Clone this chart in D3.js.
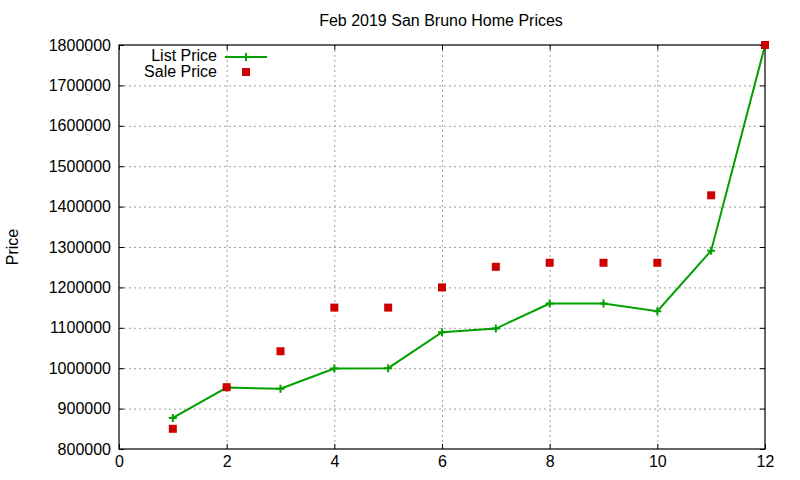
<!DOCTYPE html>
<html>
<head>
<meta charset="utf-8">
<script src="https://cdn.jsdelivr.net/npm/d3@7"></script>
<style>
  body { margin: 0; background: #fff; }
  text { font-family: "Liberation Sans", Arial, sans-serif; fill: #000; }
</style>
</head>
<body>
<svg id="chart" width="800" height="480"></svg>
<script>
// month index for each listing
var months = [1, 2, 3, 4, 5, 6, 7, 8, 9, 10, 11, 12];
var listPrice = [877000, 952000, 949000, 999000, 1000000, 1089000, 1098000, 1160000, 1160000, 1141000, 1291000, 1799000];
var salePrice = [850000, 953000, 1042000, 1150000, 1150000, 1200000, 1251000, 1261000, 1261000, 1261000, 1428000, 1800000];
var xTicks = [0, 2, 4, 6, 8, 10, 12];
var yTicks = [800000, 900000, 1000000, 1100000, 1200000, 1300000, 1400000, 1500000, 1600000, 1700000, 1800000];

var svg = d3.select("#chart");
// plot box (note: "top" is reserved on window, so use plot* names)
var plotLeft = 119, plotRight = 765, plotTop = 45, plotBottom = 449;
var green = "#00a000", red = "#cc0000";

var x = d3.scaleLinear().domain([0, 12]).range([plotLeft, plotRight]);
var y = d3.scaleLinear().domain([800000, 1800000]).range([plotBottom, plotTop]);

// grid lines
var grid = svg.append("g").attr("stroke", "#a0a0a0").attr("stroke-dasharray", "2,3").attr("stroke-width", 1);
grid.selectAll(".gx").data(xTicks.slice(1, -1)).enter().append("line")
    .attr("x1", d => x(d) + 0.5).attr("x2", d => x(d) + 0.5)
    .attr("y1", plotTop).attr("y2", plotBottom);
grid.selectAll(".gy").data(yTicks.slice(1, -1)).enter().append("line")
    .attr("x1", plotLeft).attr("x2", plotRight)
    .attr("y1", d => y(d) + 0.5).attr("y2", d => y(d) + 0.5);

// axes, with mirrored ticks on top and right
var fmt = d3.format("d");
function styleAxis(g) {
    g.select(".domain").remove();
    g.selectAll("line").attr("stroke", "#000");
    g.selectAll("text").style("font-size", "16px").style("font-family", "'Liberation Sans', Arial, sans-serif");
}
svg.append("g").attr("transform", "translate(0," + plotBottom + ")")
    .call(d3.axisBottom(x).tickValues(xTicks).tickSize(-5).tickPadding(7).tickFormat(fmt))
    .call(styleAxis);
svg.append("g").attr("transform", "translate(0," + plotTop + ")")
    .call(d3.axisTop(x).tickValues(xTicks).tickSize(-5).tickFormat(""))
    .call(styleAxis);
svg.append("g").attr("transform", "translate(" + plotLeft + ",0)")
    .call(d3.axisLeft(y).tickValues(yTicks).tickSize(-5).tickPadding(8).tickFormat(fmt))
    .call(styleAxis);
svg.append("g").attr("transform", "translate(" + plotRight + ",0)")
    .call(d3.axisRight(y).tickValues(yTicks).tickSize(-5).tickFormat(""))
    .call(styleAxis);

// frame
svg.append("rect").attr("x", plotLeft).attr("y", plotTop)
    .attr("width", plotRight - plotLeft).attr("height", plotBottom - plotTop)
    .attr("fill", "none").attr("stroke", "#000").attr("stroke-width", 1.2);

// list price line + crosses
var line = d3.line().x((d, i) => x(months[i])).y(d => y(d));
svg.append("path").datum(listPrice).attr("d", line)
    .attr("fill", "none").attr("stroke", green).attr("stroke-width", 2);

svg.selectAll(".lp").data(listPrice).enter().append("path")
    .attr("d", "M-4,0H4M0,-4V4")
    .attr("transform", (d, i) => "translate(" + x(months[i]) + "," + y(d) + ")")
    .attr("stroke", green).attr("stroke-width", 2).attr("fill", "none");

// sale price squares
svg.selectAll(".sp").data(salePrice).enter().append("rect")
    .attr("x", (d, i) => x(months[i]) - 4).attr("y", d => y(d) - 4)
    .attr("width", 8).attr("height", 8).attr("fill", red);

// title and y label
svg.append("text").attr("x", 441).attr("y", 26).attr("text-anchor", "middle")
    .style("font-size", "16px").text("Feb 2019 San Bruno Home Prices");
svg.append("text").attr("transform", "translate(18,247) rotate(-90)")
    .attr("text-anchor", "middle").style("font-size", "16px").text("Price");

// legend
var legend = svg.append("g");
legend.append("text").attr("x", 217).attr("y", 61).attr("text-anchor", "end")
    .style("font-size", "16px").text("List Price");
legend.append("line").attr("x1", 225).attr("x2", 267).attr("y1", 57).attr("y2", 57)
    .attr("stroke", green).attr("stroke-width", 2);
legend.append("path").attr("d", "M-4,0H4M0,-4V4").attr("transform", "translate(246,57)")
    .attr("stroke", green).attr("stroke-width", 2);
legend.append("text").attr("x", 217).attr("y", 77).attr("text-anchor", "end")
    .style("font-size", "16px").text("Sale Price");
legend.append("rect").attr("x", 242).attr("y", 68).attr("width", 8).attr("height", 8).attr("fill", red);
</script>
</body>
</html>
